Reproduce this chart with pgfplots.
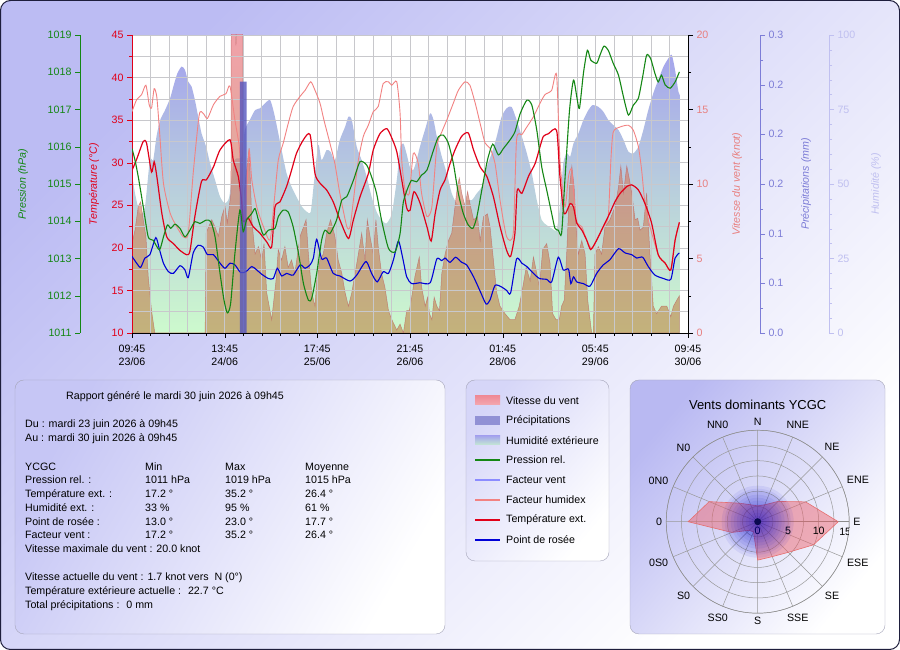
\documentclass[border=0pt]{standalone}
\usepackage{pgfplots}
\pgfplotsset{compat=1.18}
\usepgfplotslibrary{polar}
\usepackage{fontspec}
\setmainfont{Liberation Sans}
\definecolor{bglav}{RGB}{188,188,243}
\definecolor{frame}{RGB}{30,30,60}
\definecolor{panellav}{RGB}{198,198,245}
\definecolor{legendlav}{RGB}{214,214,248}
\definecolor{polarlav}{RGB}{185,185,242}
\definecolor{panelborder}{RGB}{165,165,185}
\definecolor{humtop}{RGB}{165,165,236}
\definecolor{humbot}{RGB}{205,250,205}
\definecolor{windtop}{RGB}{235,110,125}
\definecolor{windbot}{RGB}{190,140,80}
\definecolor{windedge}{RGB}{190,100,100}
\definecolor{precip}{RGB}{85,85,190}
\definecolor{tempred}{RGB}{225,0,25}
\definecolor{dewblue}{RGB}{0,0,215}
\definecolor{presgreen}{RGB}{20,135,20}
\definecolor{humidex}{RGB}{242,130,130}
\definecolor{windlab}{RGB}{232,128,128}
\definecolor{preclab}{RGB}{125,125,215}
\definecolor{humlab}{RGB}{192,192,240}
\definecolor{gridc}{RGB}{200,200,204}
\definecolor{rosefill}{RGB}{238,90,100}
\definecolor{rosedraw}{RGB}{230,110,110}
\definecolor{navy}{RGB}{10,10,80}
\definecolor{facteur}{RGB}{140,140,255}
\newcommand{\fs}{\fontsize{10.67}{13}\selectfont}
\pgfplotsset{
  mainbox/.style={at={(132pt,317pt)}, anchor=south west, width=556pt, height=298pt,
    scale only axis, xmin=0, xmax=168},
  dummy/.style={width=1pt, height=298pt, scale only axis, xmin=0, xmax=1,
    hide x axis, tick align=outside, major tick length=5pt, minor tick length=3pt,
    separate axis lines, tick label style={font=\fs},
    /pgf/number format/assume math mode=true, /pgf/number format/1000 sep={}},
}
\begin{document}
\begin{tikzpicture}[font=\fs]
\useasboundingbox (0pt,0pt) rectangle (900pt,650pt);
\begin{scope}[x=1pt,y=1pt]
% background
\shade[rounded corners=10pt, top color=bglav, bottom color=white, shading angle=45] (0.5,0.5) rectangle (899.5,649.5);
\draw[rounded corners=10pt, draw=frame, line width=1pt] (0.5,0.5) rectangle (899.5,649.5);
% panels
\shade[rounded corners=9pt, top color=panellav, bottom color=white, shading angle=60] (15,16) rectangle (445,270);
\draw[rounded corners=9pt, panelborder] (15,16) rectangle (445,270);
\shade[rounded corners=9pt, top color=legendlav, bottom color=white, shading angle=50] (466,89) rectangle (609,270);
\draw[rounded corners=9pt, panelborder] (466,89) rectangle (609,270);
\shade[rounded corners=9pt, top color=polarlav, bottom color=white, shading angle=50] (630,16) rectangle (885,270);
\draw[rounded corners=9pt, panelborder] (630,16) rectangle (885,270);
% plot background
\fill[white] (132,317) rectangle (688,615);
\end{scope}

% humidity area
\begin{axis}[mainbox, ymin=0, ymax=100, hide axis]
\addplot[draw=none, smooth, tension=0.4, top color=humtop, bottom color=humbot] table {
0.0 53.6
0.9 46.9
2.4 40.1
3.9 42.4
5.4 58.0
6.4 58.0
7.4 65.9
8.5 71.4
10.0 74.8
11.5 78.7
12.5 82.7
13.7 87.1
15.0 89.4
16.0 88.3
17.0 84.3
18.0 82.7
19.0 78.2
20.0 72.6
21.0 67.0
22.4 62.5
23.6 56.9
25.1 51.3
26.6 45.7
28.1 43.5
29.4 45.7
30.6 56.9
31.6 58.6
33.1 59.2
34.1 68.1
35.6 71.5
37.2 74.8
38.7 75.4
40.2 77.1
41.7 78.2
42.7 74.8
43.7 69.8
45.2 61.4
46.7 53.6
48.2 49.1
49.7 45.7
51.3 42.4
52.8 40.7
54.0 40.7
55.0 50.8
56.3 63.1
57.3 58.0
58.8 61.4
60.0 60.8
61.3 58.0
62.8 64.8
64.4 69.2
65.4 72.6
66.4 71.5
67.9 62.5
69.4 58.0
70.9 52.5
72.4 45.7
73.9 40.7
75.4 37.9
76.9 36.8
78.5 40.1
80.0 51.3
81.0 62.0
82.0 63.6
83.0 60.0
84.0 55.5
85.0 54.7
86.0 58.0
87.0 62.5
88.5 68.1
90.1 73.7
91.1 71.5
92.1 65.9
93.6 59.2
95.1 53.6
96.6 46.9
98.1 43.5
99.6 42.4
101.1 44.6
102.7 44.6
104.2 46.9
105.7 49.1
107.2 55.8
108.7 60.3
110.2 65.9
111.7 72.6
113.2 75.4
114.7 75.9
116.2 71.5
117.8 65.9
119.3 60.3
120.8 53.6
122.3 44.6
123.8 37.9
125.3 36.2
126.8 35.1
128.3 34.6
129.3 42.4
130.3 56.9
131.4 60.3
132.4 59.2
133.4 63.6
134.9 67.0
136.4 71.5
137.9 74.8
139.2 76.5
140.9 75.9
142.4 74.3
143.9 71.5
145.4 69.8
147.0 68.1
148.5 64.8
150.0 60.8
151.5 60.3
153.0 62.5
154.5 68.1
156.0 74.8
157.5 80.4
159.0 84.9
160.6 89.4
162.1 92.2
163.1 93.3
164.1 88.2
165.1 81.0
165.6 79.8
} \closedcycle;
\end{axis}

% wind speed area
\begin{axis}[mainbox, ymin=0, ymax=20, hide axis]
\addplot[draw=windedge, draw opacity=0.7, line width=0.5pt, top color=windtop, bottom color=windbot, fill opacity=0.65] table {
0.0 6.0
0.9 6.9
1.9 8.5
2.6 8.8
3.4 7.6
4.2 6.5
4.9 3.8
5.9 1.5
6.9 0
22.1 0
22.4 6.7
23.1 7.1
24.1 7.6
25.1 7.1
26.1 6.5
27.1 7.8
28.1 8.5
28.8 7.4
29.9 9.4
30.0 21
31.0 21
31.4 19.3
31.8 21
33.4 21
33.5 8.5
34.4 10.5
35.4 12.4
36.2 7.6
37.2 5.3
38.2 5.8
39.2 4.9
39.9 6.0
40.7 2.7
42.2 0.9
43.5 3.5
44.2 5.6
45.2 4.9
46.2 5.8
47.2 4.4
48.2 4.9
49.2 4.0
50.8 6.5
51.8 7.1
52.6 7.6
53.3 5.3
54.3 2.7
55.3 1.8
55.8 3.5
56.8 4.9
57.8 5.3
58.8 6.7
60.0 7.6
61.3 6.5
62.3 4.9
63.4 4.0
64.4 2.7
65.4 1.8
66.4 2.7
67.4 4.0
68.4 5.3
69.4 6.7
70.4 4.9
71.1 7.6
71.9 6.5
72.9 5.3
73.7 7.6
74.4 5.8
75.4 4.0
76.4 3.1
77.5 1.5
78.5 0.9
80.0 0.2
81.0 0.6
82.0 0
83.0 1.5
83.8 1.5
84.5 2.4
85.5 3.8
86.8 5.1
87.5 3.1
88.6 1.8
89.3 2.4
89.9 1.3
90.6 0.9
91.3 2.4
92.1 1.8
92.9 1.5
93.6 4.0
94.6 5.3
95.6 6.2
96.6 6.7
97.6 8.5
98.3 9.8
98.9 10.4
99.6 9.4
100.6 8.5
101.4 9.5
102.1 8.7
103.2 7.6
104.4 7.8
105.2 6.2
106.2 7.8
107.4 8.0
108.2 7.1
109.2 4.9
110.2 2.7
111.2 1.8
112.7 1.3
114.2 0.9
115.7 0.9
117.0 1.8
118.1 3.1
119.1 4.4
120.3 3.5
121.3 5.1
122.3 4.0
123.1 3.1
124.1 5.6
125.3 6.0
126.3 4.7
127.1 1.3
128.1 0.9
129.1 0.9
129.8 1.8
130.6 2.2
131.4 5.6
132.2 9.8
132.9 11.2
133.6 9.8
134.2 7.1
134.9 5.3
135.9 6.2
136.9 5.3
137.7 2.2
138.4 0.9
138.9 0
139.4 0
139.9 5.3
140.9 5.8
141.9 5.3
142.9 7.1
144.4 7.6
146.0 8.5
147.0 9.8
147.7 11.2
148.5 9.4
149.5 11.2
150.3 10.3
151.0 9.4
152.0 7.6
152.8 7.7
153.5 6.9
154.5 7.1
155.5 9.4
156.5 5.3
157.5 1.8
158.5 1.3
160.0 1.8
161.6 1.8
162.8 1.1
163.6 1.8
164.6 2.2
165.4 2.5
} \closedcycle;
\end{axis}

% temperature axis, grid, lines
\begin{axis}[mainbox, ymin=10, ymax=45, separate axis lines,
  axis x line*=bottom, axis y line*=left,
  xtick={0,28,56,84,112,140,168}, minor x tick num=4,
  xticklabels={{09:45\\23/06},{13:45\\24/06},{17:45\\25/06},{21:45\\26/06},{01:45\\28/06},{05:45\\29/06},{09:45\\30/06}},
  xticklabel style={align=center, font=\fs, text=black, yshift=-4pt},
  ytick={10,15,...,45}, minor y tick num=1,
  yticklabel style={font=\fs, text=tempred},
  /pgf/number format/assume math mode=true,
  grid=both, major grid style={gridc, line width=0.6pt}, minor grid style={gridc, line width=0.6pt},
  tick align=outside, major tick length=5pt, minor tick length=3pt,
  x axis line style={black, line width=0.8pt}, y axis line style={tempred, line width=0.8pt},
  xtick style={black}, ytick style={tempred},
]
\addplot[humidex, line width=0.9pt, smooth, tension=0.4] table {
0.0 36.0
1.4 37.4
2.9 38.0
4.2 39.1
5.2 36.8
5.9 36.4
6.7 38.7
7.5 37.7
8.3 33.8
9.5 27.6
11.5 24.1
13.5 22.5
15.5 21.3
17.0 21.7
18.5 28.8
20.3 35.6
21.5 35.8
22.8 35.2
24.6 36.8
26.6 37.8
28.4 38.1
29.6 39.0
31.1 35.0
32.4 31.9
33.1 27.2
33.8 23.3
34.6 26.4
35.4 31.5
36.2 28.0
37.7 24.8
39.7 22.5
41.7 20.9
42.9 25.2
44.2 30.3
45.7 32.3
47.2 34.6
48.7 36.6
50.8 37.8
52.3 38.5
54.0 39.5
55.3 38.5
56.8 37.0
58.0 35.0
59.8 32.3
61.3 29.9
62.8 26.4
64.9 22.5
65.9 22.5
66.9 25.6
68.4 30.3
69.9 33.1
71.4 34.4
72.9 36.0
74.4 36.6
75.9 39.3
77.5 39.5
78.5 39.1
80.0 39.5
81.0 35.8
81.5 30.3
82.5 26.8
83.8 26.4
85.0 31.1
86.5 29.9
87.5 26.4
89.1 23.7
90.6 24.8
92.1 31.9
93.6 33.6
95.1 35.0
97.1 37.0
98.6 38.5
100.6 39.5
102.1 39.1
103.7 37.0
105.2 34.6
106.7 32.3
108.2 31.7
109.7 29.9
111.2 25.6
113.2 21.3
115.2 21.7
116.2 32.7
117.8 33.3
119.3 34.2
121.3 35.4
123.3 37.0
124.8 38.0
126.8 38.5
128.3 40.3
129.3 30.3
130.8 24.8
131.9 28.4
132.9 29.1
134.2 23.3
135.9 22.5
137.4 20.9
138.9 19.9
140.4 20.9
142.4 22.5
143.9 23.7
144.7 30.3
145.4 33.6
147.5 34.2
150.0 34.4
151.5 33.8
153.0 31.9
154.0 29.1
155.0 25.2
156.5 22.5
159.0 19.2
161.1 18.2
162.8 17.4
164.1 20.9
165.4 23.0
};
\addplot[tempred, line width=1.2pt, smooth, tension=0.4] table {
0.0 29.1
1.5 30.5
3.4 32.5
4.4 32.3
5.9 28.9
6.7 30.1
7.5 28.4
9.0 24.1
10.5 21.3
12.5 20.5
14.5 19.7
16.5 19.2
17.5 19.6
19.0 23.7
21.0 27.8
22.5 28.0
24.6 29.5
26.6 31.5
29.6 32.7
30.6 30.3
32.1 28.4
33.1 25.6
33.6 23.1
35.1 23.5
36.6 22.5
38.7 21.7
40.7 20.7
42.2 20.1
43.2 24.8
44.7 25.4
46.7 27.2
48.2 29.1
49.7 31.1
51.8 32.7
53.8 33.3
55.3 28.7
56.8 27.6
58.8 26.8
60.8 25.4
62.8 23.3
65.4 21.1
66.9 23.3
68.9 26.0
71.4 28.7
72.9 31.5
74.9 33.4
77.0 34.0
78.5 32.9
80.0 31.3
81.5 28.0
83.0 24.7
84.0 24.4
85.2 26.6
87.0 25.3
89.1 22.5
90.4 20.8
91.6 24.0
93.1 26.8
94.6 28.0
96.1 29.9
97.6 31.5
99.6 33.1
101.6 33.5
103.2 31.5
105.2 29.5
107.2 28.4
109.2 26.0
111.2 22.5
113.2 19.7
114.4 19.0
115.7 21.7
116.4 26.8
117.8 26.4
119.8 28.4
121.8 29.9
123.3 31.9
124.3 33.1
125.8 33.4
128.3 33.8
129.3 28.4
130.6 24.0
132.4 25.2
133.4 24.8
134.4 22.9
135.9 22.1
137.4 20.9
138.6 19.8
140.4 20.9
142.4 22.5
144.4 24.1
145.9 25.4
147.5 26.4
149.5 27.2
151.0 27.4
153.0 26.8
155.0 25.2
157.0 22.9
159.0 19.2
161.1 18.2
162.8 17.4
164.1 20.9
165.4 23.0
};
\addplot[dewblue, line width=1.1pt, smooth, tension=0.4] table {
0.0 19.0
1.4 18.2
2.6 17.7
3.9 18.8
5.4 19.2
7.2 21.2
8.3 19.8
9.5 18.2
11.0 17.2
12.5 17.0
14.5 17.9
16.0 17.4
17.0 16.5
18.5 19.4
20.0 20.3
21.5 20.1
22.8 19.2
24.6 19.2
26.6 18.2
28.1 17.6
29.6 18.2
31.1 18.0
32.8 17.1
34.4 17.2
36.2 17.8
37.7 17.4
39.2 16.9
41.2 16.4
42.7 16.4
43.9 17.6
45.2 16.7
46.7 17.0
48.7 16.8
50.8 18.0
52.3 17.6
53.8 18.0
54.8 18.8
55.8 21.0
57.3 18.7
58.8 18.8
60.8 17.0
62.8 16.7
65.9 16.1
67.9 16.8
70.7 18.4
72.4 17.0
74.1 16.0
75.9 17.2
77.5 17.0
79.0 18.6
80.5 20.8
81.8 18.8
83.0 16.6
84.5 15.8
87.0 15.9
90.1 15.9
92.1 18.7
93.6 18.5
94.6 18.8
96.1 18.3
97.8 18.9
99.6 18.3
101.1 18.0
103.2 16.6
105.2 14.9
107.0 13.4
108.2 13.9
109.7 15.6
111.7 15.4
113.2 15.0
114.4 14.7
116.2 18.7
117.8 18.2
119.3 17.8
121.3 17.0
123.1 16.4
125.3 16.3
126.8 16.0
128.8 18.9
130.3 17.4
131.9 17.5
132.6 15.8
133.4 16.6
134.4 16.0
136.4 15.8
138.4 15.5
140.4 17.0
142.4 18.0
144.4 18.6
147.0 19.9
149.0 19.4
151.0 19.2
152.5 18.8
154.3 18.9
156.0 17.8
158.0 16.8
160.6 16.4
162.8 16.3
164.1 18.8
165.4 19.4
};
\end{axis}

% precipitation
\begin{axis}[mainbox, ymin=0, ymax=0.3, hide axis]
\addplot[draw=none, fill=precip, fill opacity=0.8] coordinates {
(32.6,0) (32.6,0.253) (34.6,0.253) (34.6,0)} \closedcycle;
\end{axis}

% pressure line
\begin{axis}[mainbox, ymin=1011, ymax=1019, hide axis]
\addplot[presgreen, line width=1.1pt, smooth, tension=0.4] table {
0.0 1015.95
0.9 1015.64
1.9 1015.19
3.4 1014.39
4.9 1013.58
6.4 1013.49
8.3 1013.23
9.5 1013.58
10.7 1013.90
11.7 1013.81
13.0 1013.92
14.5 1013.81
16.0 1013.58
17.5 1013.76
19.0 1013.99
20.5 1013.94
22.4 1014.03
23.8 1013.99
25.1 1013.58
26.6 1012.60
27.8 1011.88
28.8 1011.54
29.8 1011.79
31.1 1013.14
32.6 1014.30
33.6 1013.72
34.6 1014.03
36.2 1014.21
37.2 1014.34
38.2 1014.03
39.7 1013.63
41.2 1013.76
43.2 1013.81
44.2 1014.12
45.7 1014.30
47.2 1014.25
48.7 1013.85
50.3 1013.14
51.8 1012.33
53.3 1011.88
54.3 1011.93
55.8 1012.60
57.3 1013.49
58.3 1013.76
59.8 1013.67
61.8 1014.03
63.4 1014.57
64.9 1014.66
66.9 1015.10
68.9 1015.60
70.9 1015.51
72.4 1015.19
73.9 1014.75
75.4 1014.03
77.5 1013.27
79.5 1013.18
81.0 1013.67
82.0 1014.52
83.5 1014.93
84.5 1015.10
86.0 1015.06
87.5 1015.24
89.1 1015.37
91.1 1015.91
92.6 1016.27
94.1 1016.31
95.6 1016.09
97.1 1015.55
98.6 1014.75
100.1 1014.21
101.6 1013.90
103.0 1013.81
104.2 1014.12
105.7 1014.84
107.4 1015.64
109.0 1016.07
110.7 1015.78
112.2 1015.95
114.2 1016.18
115.7 1016.40
117.3 1016.89
119.3 1017.25
120.8 1017.12
122.3 1016.45
123.8 1015.46
125.3 1014.84
126.8 1014.21
127.8 1013.81
128.8 1013.76
129.8 1013.67
130.8 1015.10
132.2 1016.98
133.4 1017.79
134.4 1017.34
135.2 1017.03
136.4 1017.97
137.6 1018.59
138.6 1018.33
140.4 1018.24
141.4 1018.46
142.6 1018.70
143.9 1018.59
145.4 1018.24
147.0 1017.92
148.5 1017.34
150.0 1016.85
151.5 1017.12
153.0 1017.30
154.3 1017.88
155.5 1018.46
156.7 1018.37
158.0 1017.97
159.0 1017.74
160.0 1017.92
161.1 1017.66
162.6 1017.57
164.1 1017.74
165.4 1018.01
};
\end{axis}

% extra y axes
\begin{axis}[dummy, at={(80pt,317pt)}, anchor=south west, axis y line*=left,
  ymin=1011, ymax=1019, ytick={1011,1012,...,1019}, minor y tick num=1,
  y axis line style={presgreen, line width=0.8pt}, ytick style={presgreen},
  yticklabel style={text=presgreen}]
\end{axis}
\begin{axis}[dummy, at={(688pt,317pt)}, anchor=south east, axis y line*=right,
  ymin=0, ymax=20, ytick={0,5,10,15,20}, minor y tick num=1,
  y axis line style={black, line width=0.8pt}, ytick style={black},
  yticklabel style={text=windlab}]
\end{axis}
\begin{axis}[dummy, at={(760pt,317pt)}, anchor=south east, axis y line*=right,
  ymin=0, ymax=0.3, ytick={0,0.05,0.1,0.15,0.2,0.25,0.3}, minor y tick num=1,
  yticklabels={0.0,0.1,0.1,0.2,0.2,0.2,0.3},
  y axis line style={preclab, line width=0.8pt}, ytick style={preclab},
  yticklabel style={text=preclab}]
\end{axis}
\begin{axis}[dummy, at={(829pt,317pt)}, anchor=south east, axis y line*=right,
  ymin=0, ymax=100, ytick={0,25,50,75,100}, minor y tick num=4,
  y axis line style={humlab, line width=0.8pt}, ytick style={humlab},
  yticklabel style={text=humlab}]
\end{axis}

\begin{scope}[x=1pt,y=1pt]
% axis titles
\node[rotate=90, text=presgreen, font=\fs\itshape] at (23,466) {Pression (hPa)};
\node[rotate=90, text=tempred, font=\fs\itshape] at (94,466) {Température (°C)};
\node[rotate=90, text=windlab, font=\fs\itshape] at (737,466) {Vitesse du vent (knot)};
\node[rotate=90, text=preclab, font=\fs\itshape] at (806,466) {Précipitations (mm)};
\node[rotate=90, text=humlab, font=\fs\itshape] at (876,466) {Humidité (\%)};

% report text
\begin{scope}[every node/.style={anchor=base west, inner sep=0pt, font=\fs}]
\node at (66,250) {Rapport généré le mardi 30 juin 2026 à 09h45};
\node at (25,222) {Du : mardi 23 juin 2026 à 09h45};
\node at (25,208) {Au : mardi 30 juin 2026 à 09h45};
\node at (25,179.5) {YCGC};
\node at (145,179.5) {Min};
\node at (225,179.5) {Max};
\node at (305,179.5) {Moyenne};
\node at (25,166) {Pression rel. :};
\node at (145,166) {1011 hPa};
\node at (225,166) {1019 hPa};
\node at (305,166) {1015 hPa};
\node at (25,152.3) {Température ext. :};
\node at (145,152.3) {17.2 °};
\node at (225,152.3) {35.2 °};
\node at (305,152.3) {26.4 °};
\node at (25,138.6) {Humidité ext. :};
\node at (145,138.6) {33 \%};
\node at (225,138.6) {95 \%};
\node at (305,138.6) {61 \%};
\node at (25,124.9) {Point de rosée :};
\node at (145,124.9) {13.0 °};
\node at (225,124.9) {23.0 °};
\node at (305,124.9) {17.7 °};
\node at (25,111.2) {Facteur vent :};
\node at (145,111.2) {17.2 °};
\node at (225,111.2) {35.2 °};
\node at (305,111.2) {26.4 °};
\node at (25,97.5) {Vitesse maximale du vent : 20.0 knot};
\node at (25,69.5) {Vitesse actuelle du vent : 1.7 knot vers \ N (0°)};
\node at (25,55.5) {Température extérieure actuelle : \ 22.7 °C};
\node at (25,41.5) {Total précipitations : \ 0 mm};
\end{scope}

% legend
\shade[top color=windtop!80!white, bottom color=windtop!60!white] (475,245) rectangle (500,254);
\fill[precip!65!white] (475,225) rectangle (500,234);
\shade[top color=humtop, bottom color=humbot!80!humtop] (475,205) rectangle (500,214);
\draw[presgreen, line width=1.2pt] (475,190) -- (500,190);
\draw[facteur, line width=1.2pt] (475,170) -- (500,170);
\draw[humidex, line width=1.2pt] (475,150) -- (500,150);
\draw[tempred, line width=1.3pt] (475,130) -- (500,130);
\draw[dewblue, line width=1.2pt] (475,110) -- (500,110);
\begin{scope}[every node/.style={anchor=west, inner sep=0pt, font=\fs}]
\node at (506,249.5) {Vitesse du vent};
\node at (506,229.5) {Précipitations};
\node at (506,209.5) {Humidité extérieure};
\node at (506,190) {Pression rel.};
\node at (506,170) {Facteur vent};
\node at (506,150) {Facteur humidex};
\node at (506,130) {Température ext.};
\node at (506,110) {Point de rosée};
\end{scope}
\node[font=\fontsize{13}{15}\selectfont] at (757.7,245) {Vents dominants YCGC};
\end{scope}

% wind rose
\begin{polaraxis}[at={(757.7pt,128.3pt)}, anchor=center, width=183pt, height=183pt, scale only axis,
  ymin=0, ymax=15, xtick={0,22.5,...,337.5},
  xticklabels={E,ENE,NE,NNE,N,NN0,N0,0N0,0,0S0,S0,SS0,S,SSE,SE,ESE},
  xticklabel style={font=\fs, inner sep=4pt},
  ytick={0,2.5,...,15}, yticklabels={},
  grid=both, major grid style={black!40, line width=0.5pt},
  axis line style={black!45}, tick style={draw=none}]
\addplot[fill=rosefill, fill opacity=0.45, draw=rosedraw, line width=0.6pt] coordinates {
(0,13.2) (22.5,8.5) (45,4.7) (67.5,3.0) (90,2.6) (112.5,3.0) (135,4.3) (157.5,8.6)
(180,11.4) (202.5,4.6) (225,2.0) (247.5,1.8) (270,6.3) (292.5,6.2) (315,7.1) (337.5,9.9) (360,13.2)};
\node[anchor=north, font=\fs, inner sep=0pt] at (axis cs:0,0) [yshift=-5pt] {0};
\node[anchor=north, font=\fs, inner sep=0pt] at (axis cs:0,5) [yshift=-5pt] {5};
\node[anchor=north, font=\fs, inner sep=0pt] at (axis cs:0,10) [yshift=-5pt] {10};
\node[anchor=north, font=\fs, inner sep=0pt] at (axis cs:0,15) [yshift=-6.5pt, xshift=-4pt] {15};
\end{polaraxis}
\begin{scope}[x=1pt,y=1pt]
\foreach \r in {36,33,30,27,24,21,18,15,12,9,6} {
  \fill[blue!80!black, fill opacity=0.065] (757.7,128.3) circle[radius=\r pt];
}
\fill[navy] (757.7,128.3) circle[radius=3.5pt];
\end{scope}
\end{tikzpicture}
\end{document}
